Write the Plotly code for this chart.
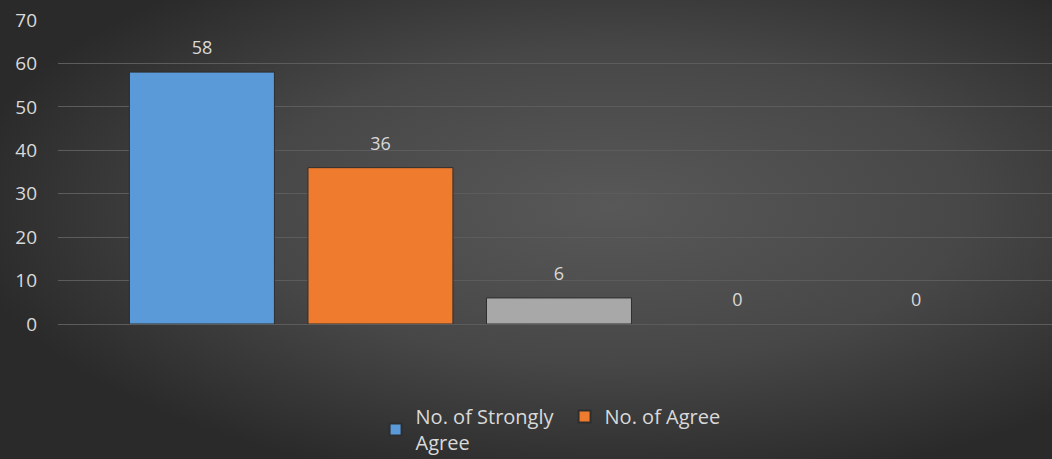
import base64
import plotly.graph_objects as go

# ---- data ----
series_names = ["No. of Strongly<br>Agree", "No. of Agree", "No. of Neutral",
                "No. of Disagree", "No. of Strongly Disagree"]
values = [58, 36, 6, 0, 0]
category = [""]
colors = ["#5a9ad8", "#ee7b2e", "#a8a8a8", "#ffc000", "#4472c4"]
legend_visible = [True, True, False, False, False]
y_ticks = [0, 10, 20, 30, 40, 50, 60, 70]

W, H = 1052, 459
L, R, T, B = 58, 0, 20, 135
pw, ph = W - L - R, H - T - B

svg = f'''<svg xmlns="http://www.w3.org/2000/svg" width="{W}" height="{H}">
<defs><radialGradient id="g" cx="58%" cy="45%" r="62%" gradientUnits="objectBoundingBox">
<stop offset="0" stop-color="#585858"/><stop offset="0.55" stop-color="#474747"/><stop offset="1" stop-color="#2a2a2a"/>
</radialGradient></defs><rect width="{W}" height="{H}" fill="url(#g)"/></svg>'''
bg = "data:image/svg+xml;base64," + base64.b64encode(svg.encode()).decode()

fig = go.Figure()
for name, v, c, show in zip(series_names, values, colors, legend_visible):
    fig.add_trace(go.Bar(
        x=category, y=[v], name=name, showlegend=show,
        marker=dict(color=c, line=dict(color="#2e2e2e", width=1 if v > 0 else 0)),
        text=[v], texttemplate="<span style='font-size:18px'>%{y}</span><br> ",
        textposition="outside", cliponaxis=False,
        textfont=dict(size=9, color="#d9d9d9", family="Open Sans"),
    ))

fig.update_layout(
    width=W, height=H,
    margin=dict(l=L, r=R, t=T, b=B),
    paper_bgcolor="#3c3c3c", plot_bgcolor="rgba(0,0,0,0)",
    barmode="group", bargap=0.102, bargroupgap=0.188,
    font=dict(family="Open Sans", color="#d9d9d9", size=18),
    images=[dict(source=bg, xref="paper", yref="paper",
                 x=-L / pw, y=1 + T / ph, sizex=W / pw, sizey=H / ph,
                 xanchor="left", yanchor="top", sizing="stretch", layer="below")],
    legend=dict(orientation="h", xref="container", yref="container",
                x=0.357, y=0.135, xanchor="left", yanchor="top",
                font=dict(size=20, color="#d9d9d9"),
                entrywidth=144, entrywidthmode="pixels",
                bgcolor="rgba(0,0,0,0)", itemsizing="constant"),
    showlegend=True,
)
fig.update_xaxes(showticklabels=False, showgrid=False, zeroline=False,
                 range=[-0.504, 0.496])
fig.update_yaxes(range=[0, 70], tickvals=y_ticks, showgrid=True,
                 gridcolor="#5c5c5c", gridwidth=1, zeroline=True,
                 zerolinecolor="#5c5c5c", zerolinewidth=1,
                 ticklabelstandoff=20,
                 tickfont=dict(size=19, color="#d9d9d9", family="Open Sans"))

fig.write_html("out.html", config={"displayModeBar": False},
               post_script="document.body.style.margin='0';")
